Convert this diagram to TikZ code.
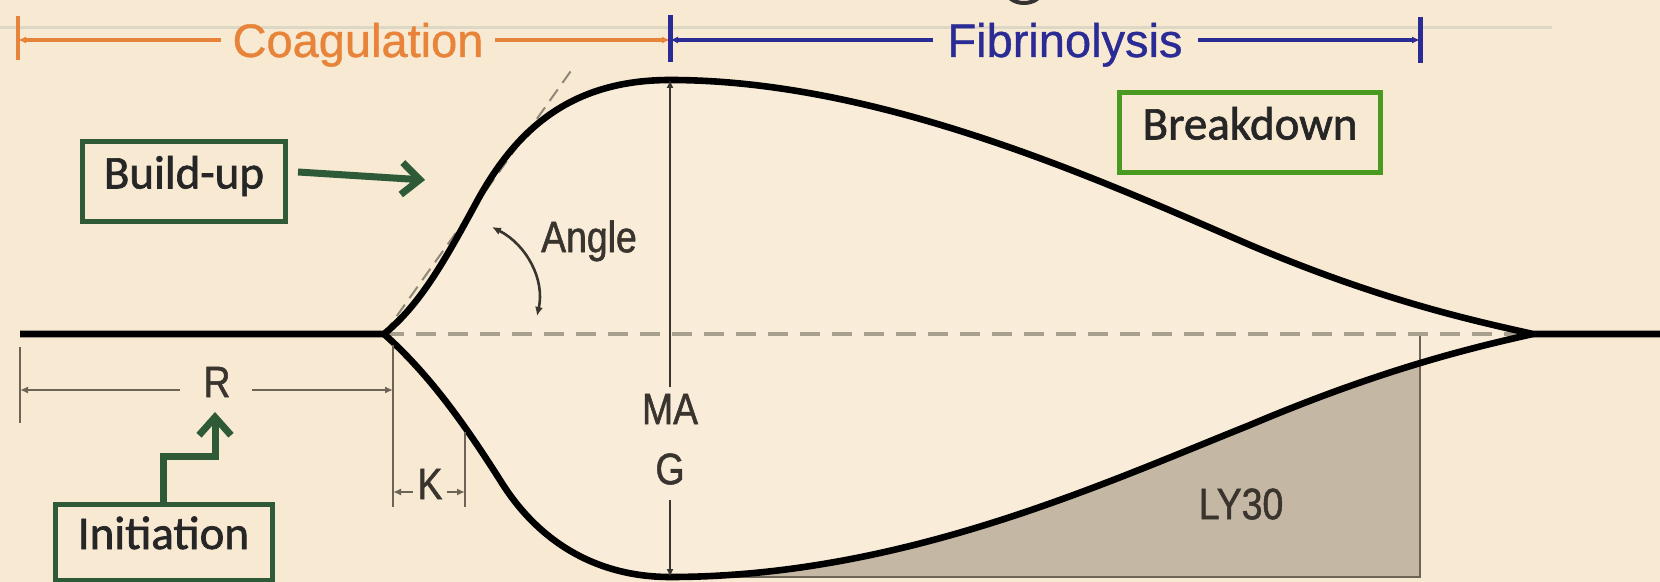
\documentclass[tikz,border=0pt]{standalone}
\usepackage{fontspec}
\setmainfont{Liberation Sans}
\newfontfamily\narrowf[FakeStretch=0.85, FakeBold=1.2]{Liberation Sans}
\newfontfamily\topf[FakeBold=0.8]{Liberation Sans}
\newfontfamily\boxf[FakeBold=1.4]{Carlito}
\usetikzlibrary{arrows.meta}
\definecolor{bg}{HTML}{F7E9D2}
\definecolor{lens}{HTML}{F9EDDA}
\definecolor{faint}{HTML}{DDD7C5}
\definecolor{coagc}{HTML}{E8843A}
\definecolor{fibc}{HTML}{2B2B96}
\definecolor{dkgreen}{HTML}{2E5A37}
\definecolor{brgreen}{HTML}{4A9A22}
\definecolor{dimc}{HTML}{6E6455}
\definecolor{dashc}{HTML}{A89F8E}
\definecolor{lyfill}{HTML}{C4B7A4}
\definecolor{txt}{HTML}{3A342E}
\tikzset{
  bartip/.style={-{Latex[length=4pt,width=3.5pt]}},
  dimline/.style={draw=dimc, line width=1.1pt},
  dimtip/.style={dimline, -{Latex[length=4pt,width=3.5pt]}},
  curve/.style={draw=black, line width=3.3pt, line join=round},
  lbl/.style={font=\narrowf\fontsize{22}{26}\selectfont, text=txt, inner sep=0pt, text height=0.72em, text depth=0pt},
  topl/.style={font=\topf\fontsize{23.5}{28}\selectfont, inner sep=0pt, anchor=base},
  gbox/.style={draw=dkgreen, line width=2.5pt, fill=bg, font=\boxf\fontsize{23.5}{28}\selectfont, text=black!85, inner sep=0pt, text height=0.65em, text depth=0pt, minimum height=40pt},
  garrow/.style={draw=dkgreen, line width=3.5pt, -{Straight Barb[length=9pt,width=16pt]}},
}
\begin{document}
\begin{tikzpicture}[x=0.5pt,y=-0.5pt]
\useasboundingbox (0,0) rectangle (1660,582);
\fill[bg] (0,0) rectangle (1660,582);
% faint line behind the top bars
\draw[faint, line width=1.5pt] (0,28) -- (1552,28);
% fragment of a cut-off letter at the top edge
\draw[black!80, line width=2pt] (1024,-10) ellipse [x radius=18, y radius=13];

% key points
\coordinate (L) at (20,334);
\coordinate (S) at (384,334);
\coordinate (P) at (670,80);
\coordinate (B) at (670,577);
\coordinate (E) at (1533,334);
\coordinate (Rt) at (1660,334);

% lens fill
\fill[lens] (S) .. controls (420,305) and (445,260) .. (475,205) .. controls (515,130) and (570,80) .. (P) .. controls (880,80) and (1100,180) .. (1250,245) .. controls (1380,300) and (1470,320) .. (E)
  .. controls (1470,348) and (1380,370) .. (1250,425) .. controls (1100,485) and (900,577) .. (B) .. controls (600,577) and (540,545) .. (500,480) .. controls (465,425) and (430,375) .. (S) -- cycle;

% LY30 shading
\begin{scope}
\clip (0,0) rectangle (1420,577);
\fill[lyfill] (B) .. controls (900,577) and (1100,485) .. (1250,425) .. controls (1380,370) and (1470,348) .. (E) -- (1533,577) -- cycle;
\end{scope}
\coordinate (LYt) at (1420,334);
\coordinate (LYb) at (1420,577);
\coordinate (LYl) at (700,577);
\draw[dimc, line width=1.2pt] (LYt) -- (LYb) -- (LYl);
\node[lbl] (ly) at (1241,512) {LY30};

% dashed baseline and tangent
\draw[dashc, line width=2.2pt, dash pattern=on 10pt off 6pt] (S) -- (E);
\coordinate (Tg) at (573,68);
\draw[dashc!85!black, line width=1pt, dash pattern=on 7pt off 4pt] (S) -- (Tg);

% main curves
\draw[curve] (L) -- (S) .. controls (420,305) and (445,260) .. (475,205) .. controls (515,130) and (570,80) .. (P) .. controls (880,80) and (1100,180) .. (1250,245) .. controls (1380,300) and (1470,320) .. (E) -- (Rt);
\draw[curve] (S) .. controls (430,375) and (465,425) .. (500,480) .. controls (540,545) and (600,577) .. (B) .. controls (900,577) and (1100,485) .. (1250,425) .. controls (1380,370) and (1470,348) .. (E);

% MAG
\node[lbl] (ma) at (670,417) {MA};
\node[lbl] (g) at (670,477) {G};
\draw[draw=txt, line width=1.1pt, -{Latex[length=4pt,width=3.5pt]}] (ma.north) ++(0,-22) -- (P);
\draw[draw=txt, line width=1.1pt, -{Latex[length=4pt,width=3.5pt]}] (g.south) ++(0,15) -- (B);

% Angle
\coordinate (A1) at (492,227);
\coordinate (A2) at (537,316);
\draw[draw=txt, line width=1.3pt, {Latex[length=4.5pt,width=4pt]}-{Latex[length=4.5pt,width=4pt]}] (A1) .. controls (527,245) and (545,280) .. (A2);
\node[lbl] (angle) at (589,245) {Angle};

% R dimension
\coordinate (R1t) at (20,347);
\coordinate (R1b) at (20,423);
\coordinate (R2t) at (393,345);
\coordinate (R2b) at (393,507);
\draw[dimline] (R1t) -- (R1b);
\draw[dimline] (R2t) -- (R2b);
\node[lbl] (R) at (217,390) {R};
\coordinate (Ra) at (20,390);
\coordinate (Rb) at (393,390);
\draw[dimtip] (180,390) -- (Ra);
\draw[dimtip] (252,390) -- (Rb);

% K dimension
\coordinate (K2t) at (465,432);
\coordinate (K2b) at (465,507);
\draw[dimline] (K2t) -- (K2b);
\node[lbl] (K) at (430,492) {K};
\draw[dimtip] (K.west) ++(-4,0) -- (393,492);
\draw[dimtip] (K.east) ++(4,0) -- (465,492);

% top bars
\node[topl, text=coagc] (coag) at (358,57) {Coagulation};
\node[topl, text=fibc] (fib) at (1065,57) {Fibrinolysis};
\coordinate (c1t) at (18,16); \coordinate (c1b) at (18,60);
\coordinate (c2t) at (670,15); \coordinate (c2b) at (670,62);
\coordinate (f2t) at (1420,17); \coordinate (f2b) at (1420,63);
\draw[coagc, line width=2.2pt] (c1t) -- (c1b);
\draw[coagc, line width=2.2pt, bartip] (221,40) -- (18,40);
\draw[coagc, line width=2.2pt, bartip] (495,40) -- (670,40);
\draw[fibc, line width=2.5pt] (c2t) -- (c2b);
\draw[fibc, line width=2.5pt] (f2t) -- (f2b);
\draw[fibc, line width=2.2pt, bartip] (933,40) -- (670,40);
\draw[fibc, line width=2.2pt, bartip] (1198,40) -- (1420,40);

% boxes
\node[gbox, minimum width=101.5pt] (build) at (184,182) {Build-up};
\node[gbox, draw=brgreen, minimum width=130.5pt] (brk) at (1250,133) {Breakdown};
\node[gbox, minimum width=108.5pt, minimum height=37.5pt] (init) at (163.5,542.5) {Initiation};
\coordinate (bt) at (425,180);
\draw[garrow] (build.east) ++(10,-10) -- (bt);
\coordinate (i1) at (163,457);
\coordinate (i2) at (215,457);
\coordinate (it) at (215,412);
\draw[garrow, line join=miter] (init.north -| i1) -- (i1) -- (i2) -- (it);
\end{tikzpicture}
\end{document}
